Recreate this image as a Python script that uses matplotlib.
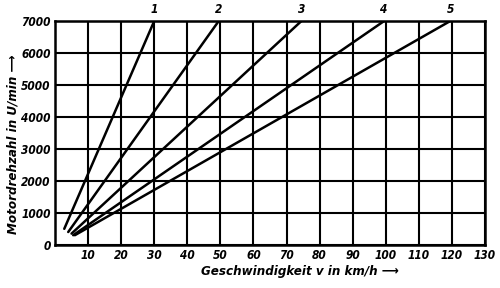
import matplotlib
matplotlib.use("Agg")
import matplotlib.pyplot as plt
from matplotlib.font_manager import FontProperties

# Data: gear lines (speed km/h, engine rpm) start and end points
gears = ["1", "2", "3", "4", "5"]
v_start = [2.8, 4.0, 5.0, 5.5, 6.0]
n_start = [500, 400, 350, 300, 300]
v_end = [30, 49.5, 74.5, 99.5, 119.5]
n_end = [7000, 7000, 7000, 7000, 7000]

x_ticks = [10, 20, 30, 40, 50, 60, 70, 80, 90, 100, 110, 120, 130]
y_ticks = [0, 1000, 2000, 3000, 4000, 5000, 6000, 7000]

fp = FontProperties(family="DejaVu Sans", style="italic", weight="bold", stretch="condensed", size=8.5)
fp_lab = FontProperties(family="DejaVu Sans", style="italic", weight="bold", stretch="condensed", size=9.5)

fig = plt.figure(figsize=(5.0, 2.88), dpi=100)
ax = fig.add_axes([0.11, 0.15, 0.86, 0.777])
ax.set_xlim(0, 130)
ax.set_ylim(0, 7000)

ax.set_xticks(x_ticks)
ax.set_yticks(y_ticks)
ax.set_xticklabels([str(t) for t in x_ticks], fontproperties=fp)
ax.set_yticklabels([str(t) for t in y_ticks], fontproperties=fp)
ax.tick_params(length=0, pad=3)
ax.grid(True, color="black", linewidth=1.5)
ax.set_axisbelow(True)
for s in ax.spines.values():
    s.set_linewidth(1.8)
    s.set_color("black")

for g, vs, ns, ve, ne in zip(gears, v_start, n_start, v_end, n_end):
    ax.plot([vs, ve], [ns, ne], color="black", linewidth=1.8, solid_capstyle="round", zorder=3)
    ax.text(ve, ne + 150, g, fontproperties=fp, ha="center", va="bottom", clip_on=False)

ax.set_xlabel("Geschwindigkeit v in km/h \u27f6", fontproperties=fp_lab, labelpad=2)
ax.set_ylabel("Motordrehzahl in U/min \u27f6", fontproperties=fp_lab, labelpad=1)
ax.xaxis.label.set_x(0.57)
ax.yaxis.label.set_y(0.45)

fig.savefig("out.png", dpi=100)
